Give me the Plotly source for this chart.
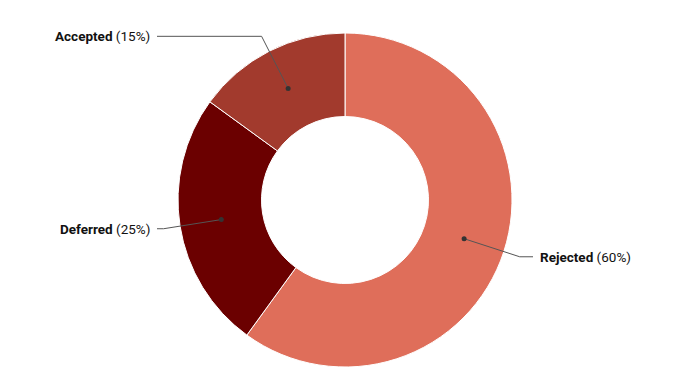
import math
import plotly.graph_objects as go

labels = ["Rejected", "Deferred", "Accepted"]
values = [60, 25, 15]
colors = ["#DF6E5A", "#6B0000", "#A23A2D"]

W, H = 690, 388
mt, mb, ml, mr = 33, 21, 0, 0
pw, ph = W - ml - mr, H - mt - mb
cx, cy = ml + pw / 2, mt + ph / 2
r_out = min(pw, ph) / 2
hole = 0.5
r_mid = r_out * (1 + hole) / 2
r_elbow = r_out * 1.1
col_off = r_out + 21


def px2paper(x, y):
    return (x - ml) / pw, 1 - (y - mt) / ph


fig = go.Figure()
fig.add_trace(go.Pie(
    labels=labels, values=values, hole=hole, sort=False, direction="clockwise",
    rotation=0, marker=dict(colors=colors, line=dict(color="white", width=1)),
    textinfo="none", hoverinfo="label+percent", showlegend=False,
    domain=dict(x=[0, 1], y=[0, 1]),
))

shapes, annotations = [], []
total = sum(values)
cum = 0
for lab, v in zip(labels, values):
    mid = (cum + v / 2) / total * 2 * math.pi
    cum += v
    dx, dy = math.sin(mid), -math.cos(mid)
    p1 = (cx + dx * r_mid, cy + dy * r_mid)
    p2 = (cx + dx * r_elbow, cy + dy * r_elbow)
    side = 1 if dx >= 0 else -1
    p3 = (cx + side * col_off, p2[1])
    pts = [px2paper(*p) for p in (p1, p2, p3)]
    path = "M {} {} L {} {} L {} {}".format(pts[0][0], pts[0][1], pts[1][0], pts[1][1], pts[2][0], pts[2][1])
    shapes.append(dict(type="path", xref="paper", yref="paper", path=path,
                       line=dict(color="#555555", width=1)))
    shapes.append(dict(type="circle", xref="paper", yref="paper",
                       xsizemode="pixel", ysizemode="pixel",
                       xanchor=pts[0][0], yanchor=pts[0][1],
                       x0=-2.5, x1=2.5, y0=-2.5, y1=2.5,
                       fillcolor="#333333", line=dict(width=0)))
    tx = p3[0] + side * 5
    ax, ay = px2paper(tx, p3[1])
    annotations.append(dict(
        x=ax, y=ay, xref="paper", yref="paper", showarrow=False,
        xanchor="left" if side > 0 else "right", yanchor="middle",
        text="<b>{}</b> ({}%)".format(lab, round(v / total * 100)),
        font=dict(family="Roboto", size=13.5, color="#111111"),
    ))

fig.update_layout(
    width=W, height=H, margin=dict(l=ml, r=mr, t=mt, b=mb),
    paper_bgcolor="white", plot_bgcolor="white",
    shapes=shapes, annotations=annotations,
    font=dict(family="Roboto"),
)
fig.write_html("out.html")
